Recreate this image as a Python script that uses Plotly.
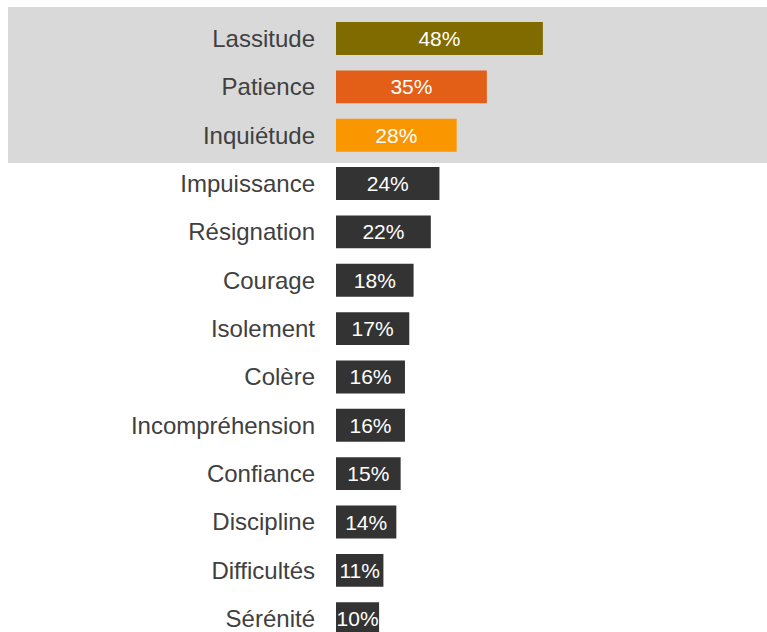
import plotly.graph_objects as go

categories = ["Lassitude", "Patience", "Inquiétude", "Impuissance", "Résignation",
              "Courage", "Isolement", "Colère", "Incompréhension", "Confiance",
              "Discipline", "Difficultés", "Sérénité"]
values = [48, 35, 28, 24, 22, 18, 17, 16, 16, 15, 14, 11, 10]
labels = [f"{v}%" for v in values]
highlight_colors = ["#7f6b00", "#e35e16", "#fa9600"]
default_color = "#333333"
colors = highlight_colors + [default_color] * (len(categories) - len(highlight_colors))

fig = go.Figure(go.Bar(
    x=values,
    y=categories,
    orientation="h",
    marker=dict(color=colors, line=dict(width=0)),
    width=0.68,
    text=labels,
    textposition="inside",
    insidetextanchor="middle",
    textangle=0,
    constraintext="none",
    textfont=dict(family="Liberation Sans, Arial, sans-serif", size=21, color="white"),
    cliponaxis=True,
    hoverinfo="skip",
))

fig.add_shape(type="rect", xref="paper", yref="paper",
              x0=(8 - 336) / 431, x1=1.0, y0=1 - 163 / 632, y1=1 - 7 / 632,
              fillcolor="#d9d9d9", line=dict(width=0), layer="below")

fig.update_layout(
    width=767, height=632,
    margin=dict(l=336, r=0, t=0, b=0),
    paper_bgcolor="white",
    plot_bgcolor="rgba(0,0,0,0)",
    showlegend=False,
    font=dict(family="Liberation Sans, Arial, sans-serif"),
    xaxis=dict(range=[0, 100], visible=False, showgrid=False, zeroline=False),
    yaxis=dict(
        type="category",
        range=[12.275, -0.796],
        showgrid=False, zeroline=False, showline=False,
        ticks="", ticklabelstandoff=20,
        tickfont=dict(family="Liberation Sans, Arial, sans-serif", size=24, color="#404040"),
    ),
)

fig.write_html("out.html",
               config={"displayModeBar": False},
               post_script="document.body.style.margin='0';"
                           "document.documentElement.style.overflow='hidden';"
                           "document.body.style.overflow='hidden';")
